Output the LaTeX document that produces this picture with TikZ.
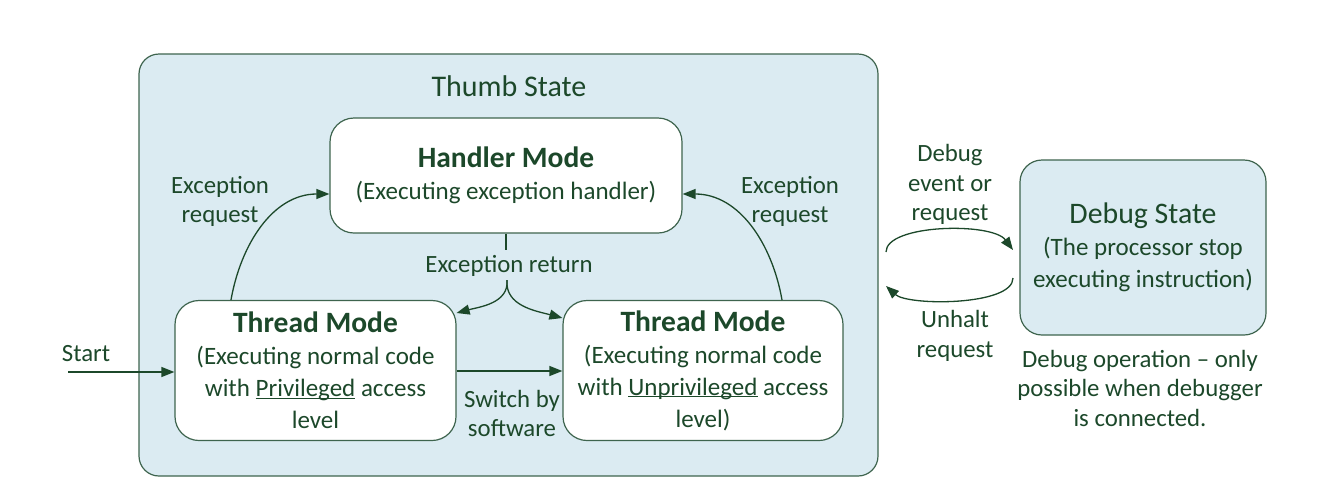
\documentclass[tikz,border=0pt]{standalone}
\usepackage{fontspec}
\setmainfont{Carlito}
\usetikzlibrary{arrows.meta}
\definecolor{txt}{RGB}{28,72,42}
\definecolor{edge}{RGB}{62,100,78}
\definecolor{pale}{RGB}{219,235,242}
\newcommand\myul[1]{\underline{\smash{#1}}}
\begin{document}
\begin{tikzpicture}[x=1pt,y=-1pt,
  lbl/.style={text=txt,align=center,font=\fontsize{24.8}{29.5}\selectfont,inner sep=0pt},
  box/.style={draw=edge,line width=1.2pt,rounded corners=24pt,align=center,text=txt,
     font=\fontsize{25}{32}\selectfont,inner sep=0pt},
  conn/.style={draw=txt,line width=1.3pt,-{Triangle[length=13pt,width=10pt]}},
  plainln/.style={draw=txt,line width=1.3pt}]
\useasboundingbox (0,0) rectangle (1328,496);
\node[box,fill=pale,rounded corners=20pt,minimum width=739pt,minimum height=422pt] (thumb) at (508.5,265) {};
\node[lbl,font=\fontsize{30}{32}\selectfont] (thumbt) at (509,86) {Thumb State};
\node[box,fill=white,minimum width=352pt,minimum height=115pt] (handler) at (506,175.5)
  {{\fontsize{29.5}{32}\selectfont\bfseries Handler Mode}\\(Executing exception handler)};
\node[box,fill=white,minimum width=281pt,minimum height=140pt] (thl) at (315.5,370.5)
  {{\fontsize{29.5}{32}\selectfont\bfseries Thread Mode}\\(Executing normal code\\with \myul{Privileged} access\\level};
\node[box,fill=white,minimum width=280pt,minimum height=140pt] (thr) at (703,370.5)
  {{\fontsize{29.5}{32}\selectfont\bfseries Thread Mode}\\(Executing normal code\\with \myul{Unprivileged} access\\level)};
\node[box,fill=pale,rounded corners=22pt,minimum width=246pt,minimum height=175pt] (debug) at (1143,247.5)
  {{\fontsize{29.8}{32}\selectfont Debug State}\\(The processor stop\\executing instruction)};
% labels
\node[lbl] (exl) at (220,201.5) {Exception\\request};
\node[lbl] (exr) at (790,201.5) {Exception\\request};
\node[lbl] (exret) at (509,266) {Exception return};
\node[lbl] (sw) at (512,413.5) {Switch by\\software};
\node[lbl] (startl) at (86,354) {Start};
\node[lbl] (dbgev) at (950,184.5) {Debug\\event or\\request};
\node[lbl] (unh) at (955,336) {Unhalt\\request};
\node[lbl] (dbgop) at (1140,388) {Debug operation -- only\\possible when debugger\\is connected.};
% coordinates
\coordinate (st) at (68,372);
\coordinate (retTop) at (506,250);
\coordinate (retSplit) at (507,280);
\coordinate (d1) at (886,252);
\coordinate (d2) at (1013,250);
\coordinate (d3) at (1013,278);
\coordinate (d4) at (886,286);
% connectors
\draw[conn] (st) -- (st -| thl.west);
\draw[conn] (thl.east |- 0,371) -- (thr.west |- 0,371);
\draw[conn] (thl.north -| 231,0) to[out=80,in=180] (handler.west |- 0,194);
\draw[conn] (thr.north -| 782,0) to[out=100,in=0] (handler.east |- 0,194);
\draw[plainln] (handler.south) -- (retTop);
\draw[conn] (retSplit) to[out=-85,in=15] (thl.east |- 0,313);
\draw[conn] (retSplit) to[out=-95,in=165] (thr.west |- 0,318);
\draw[conn] (d1) .. controls (886,224) and (992,222) .. (d2);
\draw[conn] (d3) .. controls (1013,306) and (908,306) .. (d4);
\end{tikzpicture}
\end{document}
